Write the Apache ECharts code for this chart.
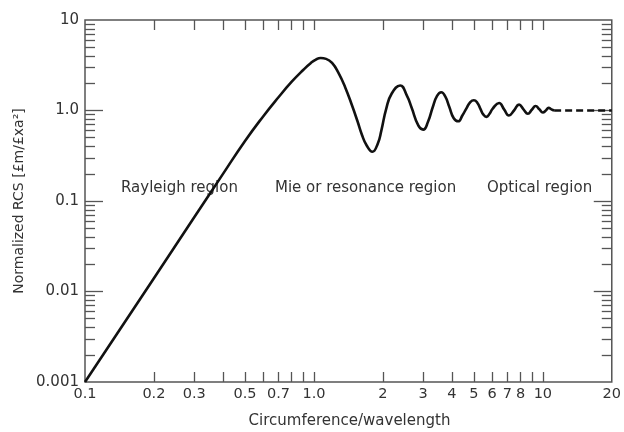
<!DOCTYPE html>
<html>
<head>
<meta charset="utf-8">
<script src="https://cdn.jsdelivr.net/npm/echarts@6/dist/echarts.min.js"></script>
<style>
html,body{margin:0;padding:0;background:#fff;}
#chart{width:624px;height:432px;}
</style>
</head>
<body>
<div id="chart"></div>
<script>
// ---- data ----
const rcsX = [0.1, 0.2, 0.3, 0.4, 0.5, 0.6, 0.7, 0.8, 0.9, 0.97, 1.02, 1.07, 1.13, 1.20, 1.28, 1.37, 1.47, 1.55, 1.62, 1.70, 1.80,
  1.90, 1.97, 2.07, 2.19, 2.38, 2.55, 2.67, 2.86, 3.00, 3.15, 3.30, 3.45, 3.60, 3.75, 3.90, 4.08, 4.27, 4.45, 4.63, 4.82, 5.00,
  5.17, 5.33, 5.50, 5.67, 5.85, 6.04, 6.44, 6.77, 7.11, 7.48, 7.87, 8.23, 8.60, 8.95, 9.30, 9.65, 10.0, 10.3, 10.6, 10.9, 11.2];
const rcsY = [0.001, 0.014, 0.066, 0.198, 0.46, 0.86, 1.4, 2.08, 2.82, 3.35, 3.65, 3.8, 3.72, 3.35, 2.6, 1.8, 1.12, 0.76, 0.54, 0.41, 0.35,
  0.43, 0.60, 1.05, 1.55, 1.89, 1.45, 1.08, 0.68, 0.615, 0.75, 1.08, 1.45, 1.59, 1.42, 1.1, 0.82, 0.76, 0.88, 1.05, 1.24, 1.30,
  1.22, 1.05, 0.9, 0.85, 0.92, 1.05, 1.21, 1.03, 0.88, 1.0, 1.16, 1.03, 0.92, 1.02, 1.12, 1.03, 0.95, 1.0, 1.07, 1.03, 1.0];
const opticalX = [11.2, 20];
const opticalY = [1.0, 1.0];

const xTickValues = [0.2,0.3,0.4,0.5,0.6,0.7,0.8,0.9,1,2,3,4,5,6,7,8,9,10];
const xLabelValues = [0.1,0.2,0.3,0.5,0.7,1,2,3,4,5,6,7,8,10,20];
const yMajorTicks = [0.01,0.1,1];
const yMinorTicks = [0.002,0.003,0.004,0.005,0.006,0.007,0.008,0.009,
  0.02,0.03,0.04,0.05,0.06,0.07,0.08,0.09,
  0.2,0.3,0.4,0.5,0.6,0.7,0.8,0.9,
  2,3,4,5,6,7,8,9];
const yLabelValues = [0.001,0.01,0.1,1,10];

const regionLabels = ['Rayleigh region', 'Mie or resonance region', 'Optical region'];
const xTitle = 'Circumference/wavelength';
const yTitle = 'Normalized RCS [£m/£xa²]';

// ---- chart ----
const FONT = 'DejaVu Sans';
const TXT = '#333';
const AX = '#555';
function fmt(v){ const r = +(+v).toPrecision(6); if (r === 1) return '1.0'; return String(r); }

const mainData = rcsX.map((x,i)=>[x, rcsY[i]]);
const opticalData = opticalX.map((x,i)=>[x, opticalY[i]]);

function xAx(pos, labels){
  return {
    type:'log', logBase:10, min:0.1, max:20, position:pos, gridIndex:0,
    axisLine:{show:false},
    axisTick:{show:true, inside:true, length:10, customValues:xTickValues, lineStyle:{color:AX, width:1.3}},
    axisLabel: labels ? {show:true, customValues:xLabelValues, formatter:fmt, color:TXT, fontFamily:FONT, fontSize:14.5, margin:5} : {show:false},
    splitLine:{show:false}, minorTick:{show:false}
  };
}
function yAx(pos, ticks, len, labels){
  return {
    type:'log', logBase:10, min:0.001, max:10, position:pos, gridIndex:0,
    axisLine:{show:false},
    axisTick:{show:true, inside:true, length:len, customValues:ticks, lineStyle:{color:AX, width:1.3}},
    axisLabel: labels ? {show:true, customValues:yLabelValues, formatter:fmt, color:TXT, fontFamily:FONT, fontSize:15, margin:6} : {show:false},
    splitLine:{show:false}, minorTick:{show:false}
  };
}

const chart = echarts.init(document.getElementById('chart'), null, {renderer:'canvas'});
chart.setOption({
  animation:false,
  backgroundColor:'#fff',
  grid:{left:85, right:10, top:20, bottom:50, show:true, borderColor:AX, borderWidth:1.5, backgroundColor:'transparent'},
  xAxis:[xAx('bottom', true), xAx('top', false)],
  yAxis:[yAx('left', yMinorTicks, 10, true), yAx('left', yMajorTicks, 18, false),
         yAx('right', yMinorTicks, 10, false), yAx('right', yMajorTicks, 18, false)],
  series:[
    {type:'line', data:mainData, xAxisIndex:0, yAxisIndex:0, smooth:0.5, showSymbol:false, symbol:'none',
     lineStyle:{color:'#111', width:2.6}, z:5},
    {type:'line', data:opticalData, xAxisIndex:0, yAxisIndex:0, showSymbol:false, symbol:'none',
     lineStyle:{color:'#111', width:2.4, type:[7,4]}, z:5}
  ],
  graphic:[
    {type:'text', x:121, y:188, style:{text:regionLabels[0], fill:TXT, font:'15px "DejaVu Sans"', verticalAlign:'middle'}},
    {type:'text', x:275, y:188, style:{text:regionLabels[1], fill:TXT, font:'15px "DejaVu Sans"', verticalAlign:'middle'}},
    {type:'text', x:487, y:188, style:{text:regionLabels[2], fill:TXT, font:'15px "DejaVu Sans"', verticalAlign:'middle'}},
    {type:'text', x:349.5, y:421, style:{text:xTitle, fill:TXT, font:'15px "DejaVu Sans"', align:'center', verticalAlign:'middle'}},
    {type:'text', x:19, y:201, rotation:Math.PI/2, style:{text:yTitle, fill:TXT, font:'14px "DejaVu Sans"', align:'center', verticalAlign:'middle'}}
  ]
});
</script>
</body>
</html>
